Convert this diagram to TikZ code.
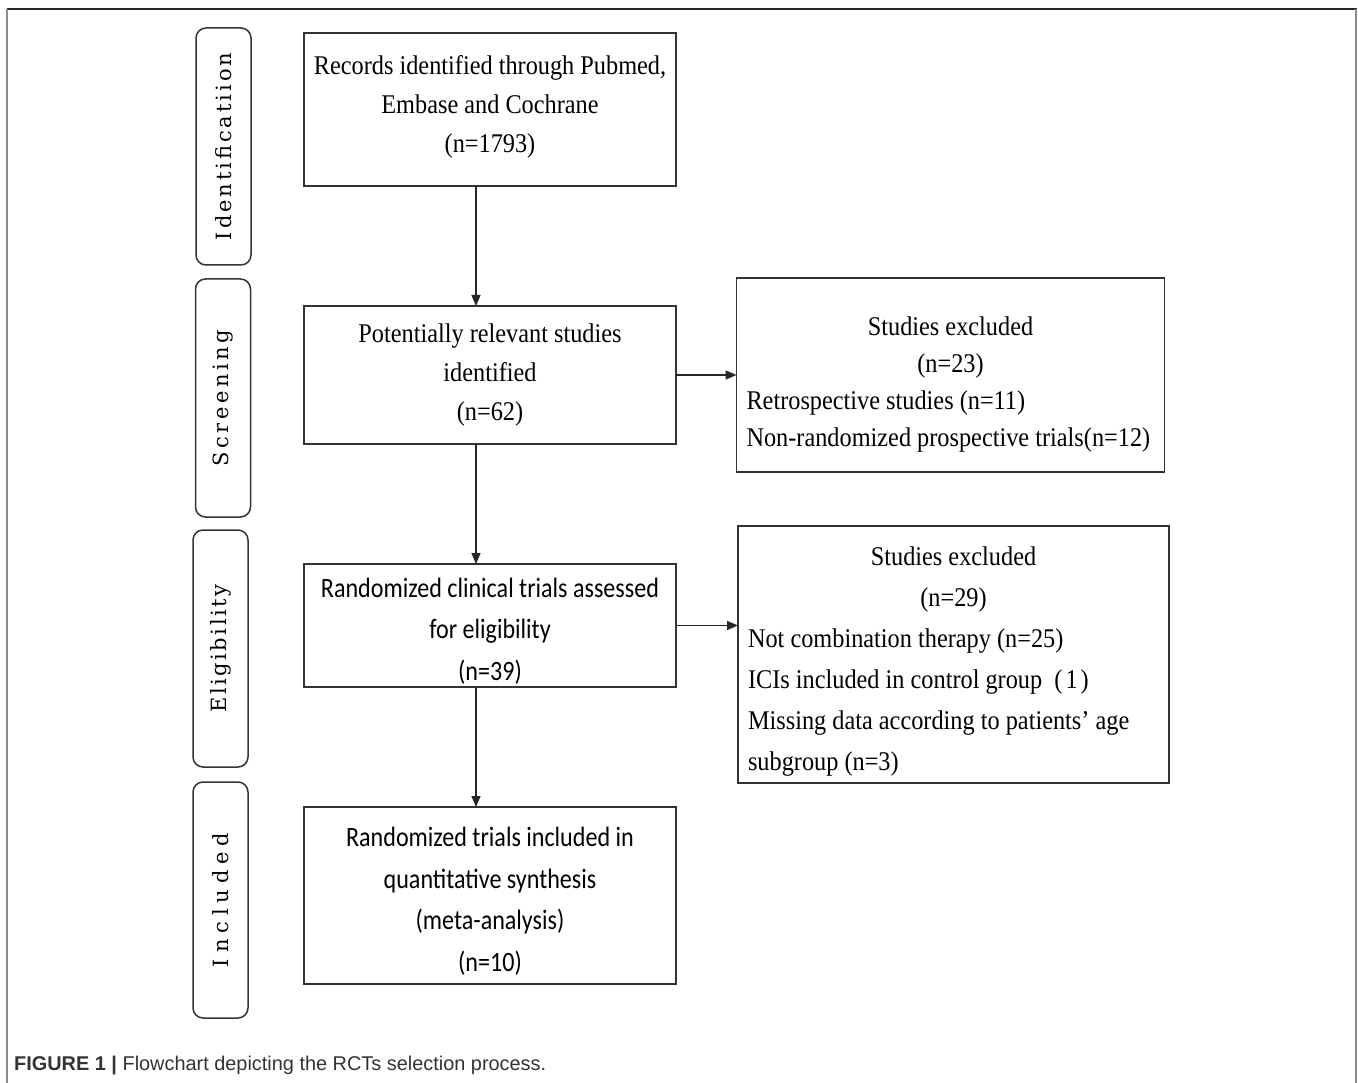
\documentclass[tikz,border=0pt]{standalone}
\usepackage{fontspec}
\setmainfont{Liberation Serif}[FakeStretch=0.9]
\newfontfamily\sansbox{Carlito}[FakeStretch=0.86]
\newfontfamily\stagefont{DejaVu Serif}
\newfontfamily\capfont{Liberation Sans}
\usetikzlibrary{positioning,calc,arrows.meta}

\newcommand{\stagelabel}[2]{{\addfontfeature{LetterSpace=#1}#2}}

\tikzset{
    flowbox/.style={draw=black!80, line width=1.5pt, minimum width=372pt, inner sep=0pt, outer sep=0pt, align=center},
    serifbox/.style={flowbox, font=\fontsize{27}{39}\selectfont},
    sansbox/.style={flowbox, font=\sansbox\fontsize{28}{41.5}\selectfont},
    exbox/.style={draw=black!80, line width=1.5pt, inner sep=0pt, outer sep=0pt, align=left, font=\fontsize{27}{39}\selectfont},
    stagebox/.style={draw=black!80, line width=1.5pt, rounded corners=10pt, rotate=90, minimum height=55pt, inner sep=0pt, font=\stagefont\fontsize{21}{21}\selectfont},
    arr/.style={black!85, line width=1.3pt, -{Triangle[length=11pt,width=9pt]}}
}

\begin{document}
\begin{tikzpicture}[x=1pt,y=-1pt]
    \useasboundingbox (0,0) rectangle (1358,1083);

    % Frame
    \draw[black!85, line width=1.5pt] (7,9) -- (1357,9);
    \draw[black!45, line width=1.5pt] (7,9) -- (7,1083);
    \draw[black!45, line width=1.5pt] (1356,9) -- (1356,1083);

    % Stages
    \node[stagebox, minimum width=237pt] (idf) at (223.5,146.5) {\stagelabel{14}{Identificatiion}};
    \node[stagebox, minimum width=238pt] (scr) at (223,398) {\stagelabel{17}{Screening}};
    \node[stagebox, minimum width=237pt] (elig) at (220.5,648.5) {\stagelabel{12}{Eligibility}};
    \node[stagebox, minimum width=236pt] (incl) at (220.5,900) {\stagelabel{28}{Included}};

    % Main flow
    \node[serifbox, minimum height=153pt] (rec) at (490,109.5) {Records identified through Pubmed,\\Embase and Cochrane\\(n=1793)\\[-27pt]};
    \node[serifbox, minimum height=138pt] (pot) at (490,375) {Potentially relevant studies\\identified\\(n=62)};
    \node[sansbox, minimum height=123pt] (rct) at (490,625.5) {\rule{0pt}{30pt}Randomized clinical trials assessed\\for eligibility\\(n=39)};
    \node[sansbox, minimum height=177pt] (meta) at (490,895.5) {\rule{0pt}{31pt}Randomized trials included in\\quantitative synthesis\\(meta-analysis)\\(n=10)};

    % Exclusions
    \node[exbox, minimum width=428pt, minimum height=194pt, font=\fontsize{27}{37}\selectfont] (exa) at (950.5,375)
        {\rule{0pt}{38pt}\makebox[408pt]{Studies excluded}\\\makebox[408pt]{(n=23)}\\Retrospective studies (n=11)\\Non-randomized prospective trials(n=12)};
    \node[exbox, minimum width=431pt, minimum height=257pt, font=\fontsize{27}{41}\selectfont] (exb) at (953.5,654.5)
        {\rule{0pt}{33pt}\makebox[411pt]{Studies excluded}\\\makebox[411pt]{(n=29)}\\Not combination therapy (n=25)\\ICIs included in control group\ \ (\kern3pt1\kern3pt)\\Missing data according to patients’ age\\subgroup (n=3)};

    % Arrows
    \coordinate (spine) at (476,0);
    \draw[arr] (rec.south -| spine) -- (pot.north -| spine);
    \draw[arr] (pot.south -| spine) -- (rct.north -| spine);
    \draw[arr] (rct.south -| spine) -- (meta.north -| spine);
    \draw[arr] (pot.east) -- (pot.east -| exa.west);
    \draw[arr] (rct.east) -- (rct.east -| exb.west);

    % Caption
    \node[anchor=base west, inner sep=0pt, text=black!80, font=\capfont\fontsize{19.9}{20}\selectfont] (cap) at (14,1070)
        {\textbf{FIGURE 1 |} Flowchart depicting the RCTs selection process.};
\end{tikzpicture}
\end{document}
